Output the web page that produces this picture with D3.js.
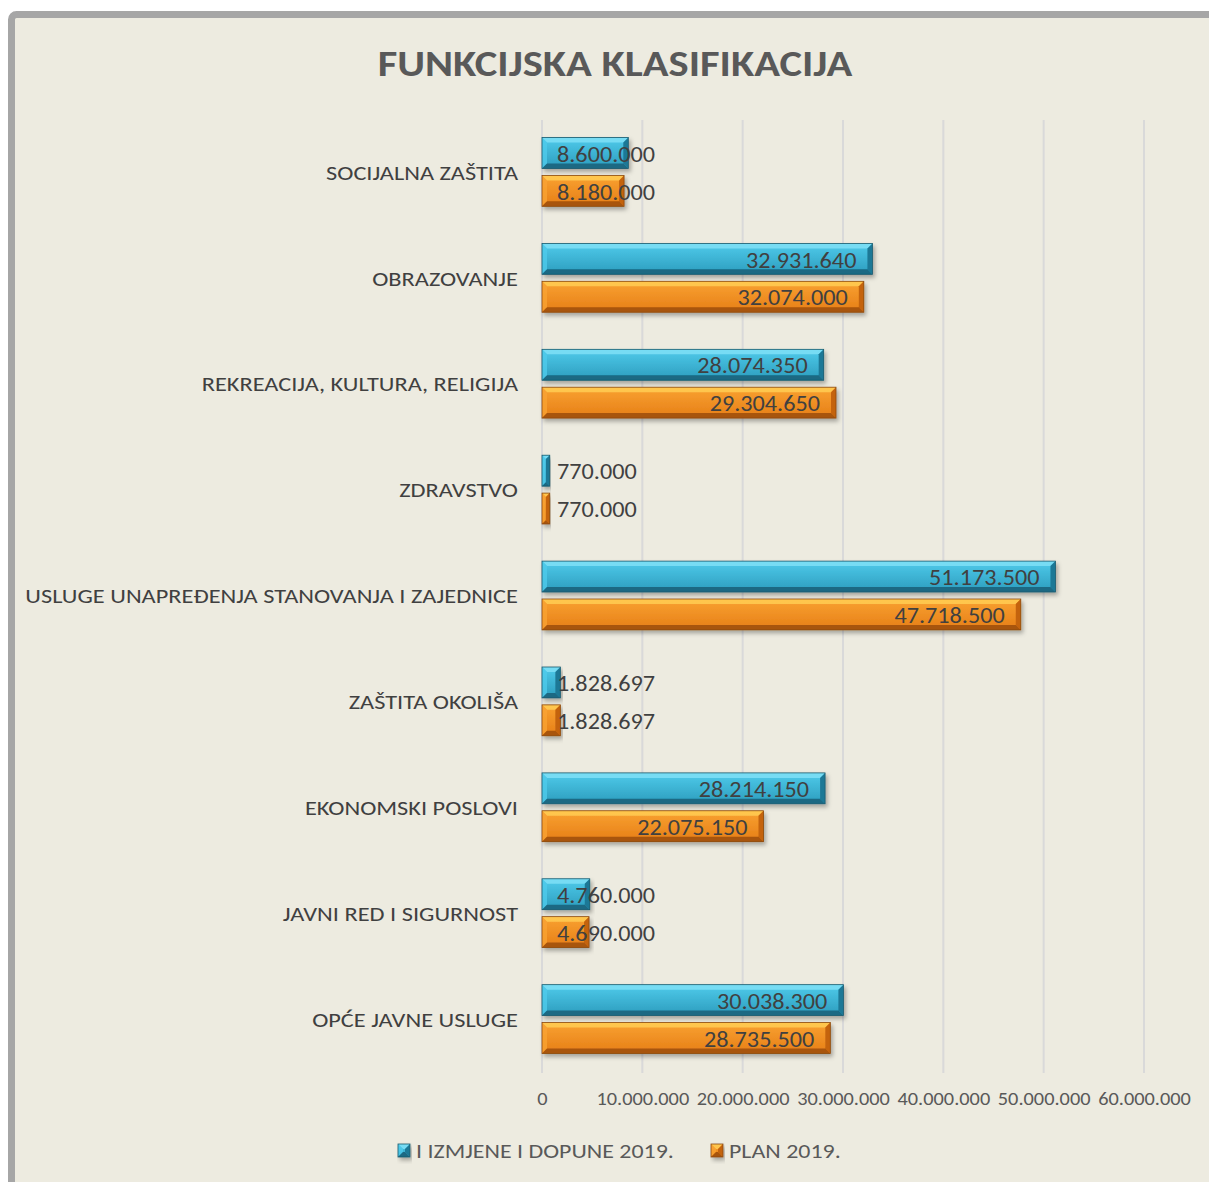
<!DOCTYPE html>
<html>
<head>
<meta charset="utf-8">
<script src="https://cdn.jsdelivr.net/npm/d3@7"></script>
<style>
  html, body { margin: 0; padding: 0; background: #ffffff; }
  svg { display: block; }
  text { font-family: Carlito, Lato, "Open Sans", sans-serif; }
</style>
</head>
<body>
<div id="chart"></div>
<script>
const title = "FUNKCIJSKA KLASIFIKACIJA";
const categories = [
  "SOCIJALNA ZAŠTITA",
  "OBRAZOVANJE",
  "REKREACIJA, KULTURA, RELIGIJA",
  "ZDRAVSTVO",
  "USLUGE UNAPREĐENJA STANOVANJA I ZAJEDNICE",
  "ZAŠTITA OKOLIŠA",
  "EKONOMSKI POSLOVI",
  "JAVNI RED I SIGURNOST",
  "OPĆE JAVNE USLUGE"
];
const seriesNames = ["I IZMJENE I DOPUNE 2019.", "PLAN 2019."];
const izmjene = [8600000, 32931640, 28074350, 770000, 51173500, 1828697, 28214150, 4760000, 30038300];
const plan    = [8180000, 32074000, 29304650, 770000, 47718500, 1828697, 22075150, 4690000, 28735500];
const tickValues = [0, 10000000, 20000000, 30000000, 40000000, 50000000, 60000000];

const W = 1209, H = 1182;
const fmt = v => {
  const s = String(Math.round(v));
  return s.replace(/\B(?=(\d{3})+(?!\d))/g, ".");
};
function stretch(sel, k) {
  sel.each(function () {
    const w = this.getComputedTextLength();
    d3.select(this).attr("textLength", w * k).attr("lengthAdjust", "spacingAndGlyphs");
  });
}

const svg = d3.select("#chart").append("svg").attr("width", W).attr("height", H);

const defs = svg.append("defs");
const shadow = defs.append("filter").attr("id", "shadow")
  .attr("x", "-5%").attr("y", "-30%").attr("width", "115%").attr("height", "180%");
shadow.append("feDropShadow").attr("dx", 2).attr("dy", 3).attr("stdDeviation", 2)
  .attr("flood-color", "#000").attr("flood-opacity", 0.3);

const palettes = [
  { id: "gc", top: "#4fcbeb", bot: "#2c9cbd", light: "#7cdef5", right: "#1f7896", bottom: "#1a6983", stroke: "#1b5a6d" },
  { id: "go", top: "#f9a232", bot: "#e67e16", light: "#ffca52", right: "#c4630e", bottom: "#a8540c", stroke: "#8a4a12" }
];
palettes.forEach(p => {
  const g = defs.append("linearGradient").attr("id", p.id).attr("x1", 0).attr("y1", 0).attr("x2", 0).attr("y2", 1);
  g.append("stop").attr("offset", "0%").attr("stop-color", p.top);
  g.append("stop").attr("offset", "100%").attr("stop-color", p.bot);
});

// background + border
svg.append("rect").attr("x", 11.5).attr("y", 14.5).attr("width", 1230).attr("height", 1200)
  .attr("rx", 5).attr("fill", "#edebe0").attr("stroke", "#a6a6a6").attr("stroke-width", 7);

// title
const tt = svg.append("text").attr("x", 615).attr("y", 76).attr("text-anchor", "middle")
  .attr("font-size", 37).attr("font-weight", "bold").attr("fill", "#595959").text(title);
stretch(tt, 1.15);

const x = d3.scaleLinear().domain([0, 60000000]).range([542, 1144]);
const y = d3.scaleBand().domain(categories).range([119, 1072]).paddingInner(0).paddingOuter(0);
const y1 = d3.scaleBand().domain(seriesNames).range([0, y.bandwidth()]).paddingInner(0.184).paddingOuter(0.49);

// gridlines
const xAxis = d3.axisBottom(x).tickValues(tickValues).tickSize(0).tickFormat(fmt);
svg.append("g").attr("class", "grid").selectAll("line").data(tickValues).join("line")
  .attr("x1", d => x(d)).attr("x2", d => x(d)).attr("y1", 120).attr("y2", 1073)
  .attr("stroke", "#d9d9d9").attr("stroke-width", 2);

// x axis tick labels
const ax = svg.append("g").attr("transform", "translate(0,1089)").call(xAxis);
ax.select(".domain").remove();
ax.selectAll("text").attr("font-size", 18).attr("fill", "#595959")
  .style("font-family", "Carlito, Lato, 'Open Sans', sans-serif");
stretch(ax.selectAll("text"), 1.13);

// category labels
const yAxis = d3.axisLeft(y).tickSize(0).tickPadding(0);
const ay = svg.append("g").attr("transform", "translate(518,1)").call(yAxis);
ay.select(".domain").remove();
ay.selectAll("text").attr("font-size", 21).attr("fill", "#404040")
  .style("font-family", "Carlito, Lato, 'Open Sans', sans-serif");
stretch(ay.selectAll("text"), 1.16);

function bevelBar(g, x0, x1, yt, h, p) {
  const w = x1 - x0;
  const b = Math.min(5, w / 2, h / 2);
  const yb = yt + h;
  const grp = g.append("g").attr("filter", "url(#shadow)");
  grp.append("rect").attr("x", x0).attr("y", yt).attr("width", w).attr("height", h).attr("fill", `url(#${p.id})`);
  grp.append("polygon").attr("points", [[x0, yt], [x1, yt], [x1 - b, yt + b], [x0 + b, yt + b]].join(" "))
    .attr("fill", p.light).attr("opacity", 0.9);
  grp.append("polygon").attr("points", [[x0, yt], [x0 + b, yt + b], [x0 + b, yb - b], [x0, yb]].join(" "))
    .attr("fill", p.top).attr("opacity", 0.8);
  grp.append("polygon").attr("points", [[x1, yt], [x1, yb], [x1 - b, yb - b], [x1 - b, yt + b]].join(" "))
    .attr("fill", p.right);
  grp.append("polygon").attr("points", [[x0, yb], [x1, yb], [x1 - b, yb - b], [x0 + b, yb - b]].join(" "))
    .attr("fill", p.bottom);
  grp.append("rect").attr("x", x0).attr("y", yt).attr("width", w).attr("height", h)
    .attr("fill", "none").attr("stroke", p.stroke).attr("stroke-width", 0.8);
}

const series = [izmjene, plan];
const barsG = svg.append("g");
const labelsG = svg.append("g");
categories.forEach((c, i) => {
  series.forEach((vals, s) => {
    const v = vals[i];
    const yt = y(c) + y1(seriesNames[s]);
    const h = y1.bandwidth();
    bevelBar(barsG, x(0), x(v), yt, h, palettes[s]);
    const t = labelsG.append("text").attr("y", yt + h / 2 + 1).attr("dy", "0.35em")
      .attr("font-size", 22).attr("fill", "#404040").text(fmt(v));
    stretch(t, 1.1);
    const tw = +t.attr("textLength");
    const lx = Math.max(x(v) - 16 - tw, 557);
    t.attr("x", lx);
  });
});

// legend
const legend = [
  { name: seriesNames[0], p: palettes[0], x: 398 },
  { name: seriesNames[1], p: palettes[1], x: 711 }
];
legend.forEach(l => {
  const g = svg.append("g");
  bevelBar(g, l.x, l.x + 12, 1144, 13, l.p);
  const t = g.append("text").attr("x", l.x + 18).attr("y", 1151).attr("dy", "0.35em")
    .attr("font-size", 21).attr("fill", "#595959").text(l.name);
  stretch(t, 1.14);
});
</script>
</body>
</html>
